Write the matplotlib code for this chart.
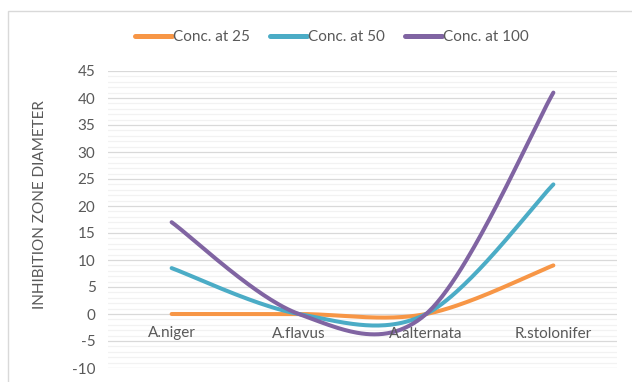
import numpy as np
import matplotlib.pyplot as plt
from matplotlib.patches import Rectangle

fungi = ["A.niger", "A.flavus", "A.alternata", "R.stolonifer"]
conc_25 = [0, 0, 0, 9]
conc_50 = [8.5, 0, 0, 24]
conc_100 = [17, 0, 0, 41]
series_names = ["Conc. at 25", "Conc. at 50", "Conc. at 100"]
colors = ["#F79646", "#4BACC6", "#8064A2"]


def smooth(y, n=60):
    # bezier segments with catmull-rom style tangents (like a spreadsheet "smoothed line")
    y = np.asarray(y, dtype=float)
    x = np.arange(len(y), dtype=float)
    px = np.concatenate([[x[0]], x, [x[-1]]])
    py = np.concatenate([[y[0]], y, [y[-1]]])
    t = np.linspace(0, 1, n)
    xs, ys = [], []
    for i in range(len(y) - 1):
        p0x, p0y = px[i + 1], py[i + 1]
        p3x, p3y = px[i + 2], py[i + 2]
        c1x = p0x + (px[i + 2] - px[i]) / 6
        c1y = p0y + (py[i + 2] - py[i]) / 6
        c2x = p3x - (px[i + 3] - px[i + 1]) / 6
        c2y = p3y - (py[i + 3] - py[i + 1]) / 6
        b0 = (1 - t) ** 3
        b1 = 3 * (1 - t) ** 2 * t
        b2 = 3 * (1 - t) * t ** 2
        b3 = t ** 3
        xs.append(b0 * p0x + b1 * c1x + b2 * c2x + b3 * p3x)
        ys.append(b0 * p0y + b1 * c1y + b2 * c2y + b3 * p3y)
    return np.concatenate(xs), np.concatenate(ys)


plt.rcParams['font.family'] = ['Lato', 'DejaVu Sans']
txt = "#595959"
fs = 11

fig = plt.figure(figsize=(6.32, 3.82), dpi=100)
ax = fig.add_axes([108 / 632, 1 - 368 / 382, 509 / 632, 297 / 382])

# chart frame
fig.patches.append(Rectangle((8 / 632, -0.1), 1.0, 1 - 11 / 382 + 0.1,
                             transform=fig.transFigure, fill=False,
                             edgecolor="#D9D9D9", lw=1.0))

for vals, name, c in zip([conc_25, conc_50, conc_100], series_names, colors):
    sx, sy = smooth(vals)
    ax.plot(sx, sy, color=c, lw=2.9, solid_capstyle="round", label=name, zorder=3)

ax.set_xlim(-0.5, 3.5)
ax.set_ylim(-10, 45)
ax.set_yticks(np.arange(-10, 46, 5))
ax.set_yticks(np.arange(-10, 46, 1), minor=True)
ax.set_yticklabels([str(v) for v in range(-10, 46, 5)])
ax.set_xticks([])

# category names sit just under the zero line
for i, name in enumerate(fungi):
    ax.annotate(name, (i, 0), xytext=(0, -9), textcoords="offset points",
                ha="center", va="top", fontsize=fs, color=txt, zorder=4)

ax.grid(axis="y", which="major", color="#D9D9D9", lw=0.9, zorder=0)
ax.grid(axis="y", which="minor", color="#F2F2F2", lw=0.9, zorder=0)
ax.set_axisbelow(True)

for side in ["top", "right", "left", "bottom"]:
    ax.spines[side].set_visible(False)

ax.tick_params(axis="y", which="both", length=0, pad=9, labelsize=fs, labelcolor=txt)

ax.set_ylabel("INHIBITION ZONE DIAMETER", fontsize=fs, color=txt)
ax.yaxis.set_label_coords(-0.12, 0.55)

leg = ax.legend(loc="center", bbox_to_anchor=(0.44, 1 + 34 / 297),
                ncol=3, frameon=False, fontsize=fs, handlelength=2.4,
                handletextpad=0.1, columnspacing=1.3)
for t in leg.get_texts():
    t.set_color(txt)
for h in leg.get_lines():
    h.set_linewidth(3.6)
    h.set_solid_capstyle("round")

fig.savefig("out.png", dpi=100)
